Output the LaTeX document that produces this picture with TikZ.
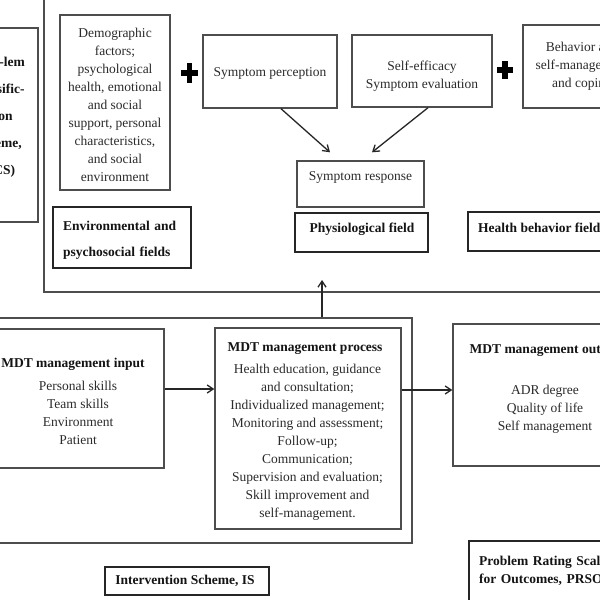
\documentclass[tikz,border=0pt]{standalone}
\usepackage{fontspec}
\setmainfont{Liberation Serif}
\usetikzlibrary{arrows.meta,fit}
\definecolor{boxgray}{HTML}{4D4D4D}
\definecolor{txtgray}{HTML}{2B2B2B}
\tikzset{
  box/.style={draw=boxgray, line width=1.4pt, inner sep=0pt},
  fieldbox/.style={draw=black!85, line width=2.2pt, inner sep=0pt},
  txtn/.style={text=txtgray, inner sep=0pt, align=center, font=\fontsize{13.5}{18}\selectfont},
  btxt/.style={text=black!92, inner sep=0pt, align=center, font=\fontsize{13.5}{18}\selectfont\bfseries},
  arr/.style={-{Straight Barb[length=6pt,width=8pt]}, line width=1.3pt, draw=black!85},
  plussign/.style={minimum width=17pt, minimum height=20pt, inner sep=0pt,
    path picture={
      \fill[black] ([xshift=-2.7pt]path picture bounding box.north) rectangle ([xshift=2.7pt]path picture bounding box.south);
      \fill[black] ([yshift=-2.7pt]path picture bounding box.west) rectangle ([yshift=2.7pt]path picture bounding box.east);
    }}
}
\begin{document}
\begin{tikzpicture}[x=1pt,y=-1pt]
\useasboundingbox[fill=white] (0,0) rectangle (600,600);
\clip (0,0) rectangle (600,600);

% ---------- upper region ----------
\node[box, fit={(44,-10) (640,292)}] (upper) {};
\node[box, fit={(-60,28) (38,222)}] (pcs) {};
\node[btxt, font=\fontsize{13.5}{27}\selectfont\bfseries] (pcstxt) at (-2,117.5)
  {Prob-lem\\Classific-\\ation\\Scheme,\\(PCS)};

\node[box, fit={(60,15) (170,190)}] (demo) {};
\node[txtn] (demotxt) at (115,104.5) {Demographic\\factors;\\psychological\\health, emotional\\and social\\support, personal\\characteristics,\\and social\\environment};

\node[plussign] (plus1) at (189.5,73) {};

\node[box, fit={(203,35) (337,108)}] (perc) {};
\node[txtn] (perctxt) at (270,73) {Symptom perception};

\node[box, fit={(352,35) (492,107)}] (selfeff) {};
\node[txtn] (selftxt) at (422,76) {Self-efficacy\\Symptom evaluation};

\node[plussign, minimum width=16pt, minimum height=18pt] (plus2) at (505,70) {};

\node[box, fit={(523,25) (641,108)}] (behav) {};
\node[txtn] (behavtxt) at (582,66.5) {Behavior and\\self-management\\and coping};

\node[box, fit={(297,161) (424,207)}] (resp) {};
\node[txtn] (resptxt) at (360.5,177) {Symptom response};

\node[fieldbox, fit={(53,207) (191,268)}] (envf) {};
\node[btxt, align=left, text width=117pt, anchor=west, font=\fontsize{13.5}{26}\selectfont\bfseries] (envtxt) at (63,240)
  {\makebox[117pt][s]{Environmental and}\\psychosocial fields};

\node[fieldbox, fit={(295,213) (428,252)}] (phys) {};
\node[btxt] (phystxt) at (362,229) {Physiological field};

\node[fieldbox, fit={(468,212) (625,251)}] (hbf) {};
\node[btxt, anchor=west] (hbftxt) at (478,228) {Health behavior field};

\draw[arr] ([xshift=11pt]perc.south) -- ([xshift=-30.5pt,yshift=8pt]resp.north);
\draw[arr] ([xshift=6pt]selfeff.south) -- ([xshift=11.5pt,yshift=8pt]resp.north);

% ---------- lower region ----------
\node[box, fit={(-20,318) (412,543)}] (mgmt) {};
\coordinate (upto) at (322,280);
\draw[arr] (upto |- mgmt.north) -- (upto);

\node[box, fit={(-20,329) (164,468)}] (in) {};
\node[btxt] (intitle) at (73,364) {MDT management input};
\node[txtn] (initems) at (78,412.5) {Personal skills\\Team skills\\Environment\\Patient};

\node[box, fit={(215,328) (401,529)}] (proc) {};
\node[btxt] (proctitle) at (305,349) {MDT management process};
\node[txtn] (procitems) at (307.5,442.5) {Health education, guidance\\and consultation;\\Individualized management;\\Monitoring and assessment;\\Follow-up;\\Communication;\\Supervision and evaluation;\\Skill improvement and\\self-management.};

\node[box, fit={(453,324) (637,466)}] (out) {};
\node[btxt] (outtitle) at (545,351) {MDT management output};
\node[txtn] (outitems) at (545,409) {ADR degree\\Quality of life\\Self management};

\draw[arr] ([yshift=9.5pt]in.east) -- ([yshift=9.5pt]in.east -| proc.west);
\draw[arr] ([yshift=38.5pt]proc.east) -- ([yshift=38.5pt]proc.east -| out.west);

\node[fieldbox, fit={(105,567) (269,595)}] (isbox) {};
\node[btxt] (istxt) at (185,581) {Intervention Scheme, IS};

\node[fieldbox, fit={(469,541) (640,630)}] (prso) {};
\node[btxt, align=left, text width=150pt, anchor=west] (prsotxt) at (479,571)
  {\makebox[150pt][s]{Problem Rating Scale}\\for Outcomes, PRSO};
\end{tikzpicture}
\end{document}
